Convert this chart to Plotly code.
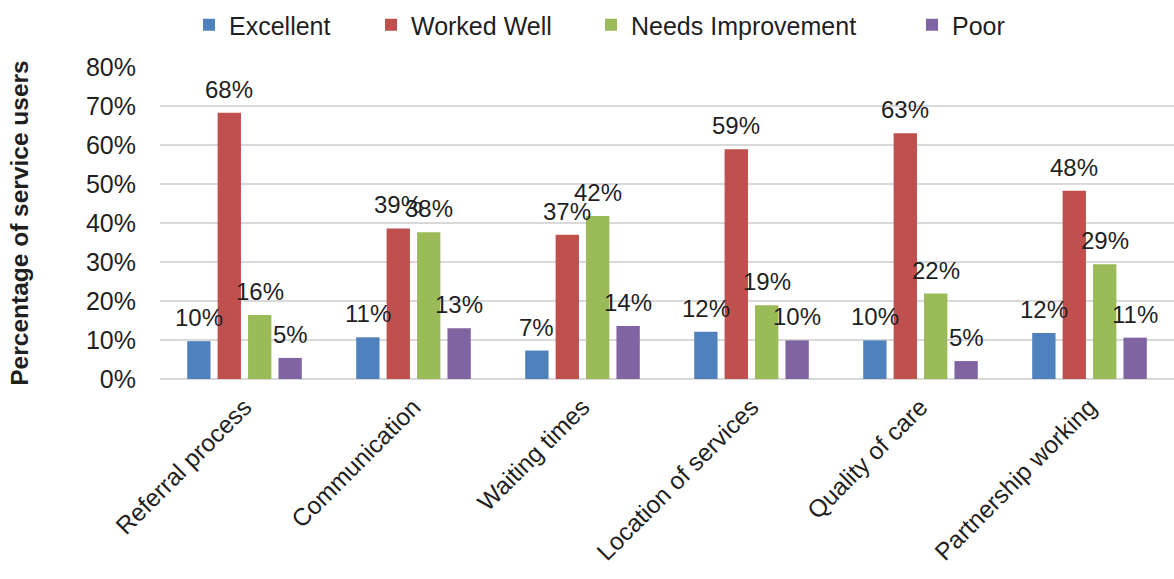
import plotly.graph_objects as go

# Survey results: share of service users rating each aspect
categories = ["Referral process", "Communication", "Waiting times",
              "Location of services", "Quality of care", "Partnership working"]
series_names = ["Excellent", "Worked Well", "Needs Improvement", "Poor"]
excellent = [9.7, 10.7, 7.3, 12.1, 9.9, 11.8]
worked_well = [68.3, 38.6, 37.0, 58.9, 63.0, 48.3]
needs_improvement = [16.4, 37.6, 41.8, 18.9, 21.9, 29.4]
poor = [5.4, 13.0, 13.6, 9.9, 4.6, 10.6]
y_ticks = [0, 10, 20, 30, 40, 50, 60, 70, 80]

colors = ["#4F81BD", "#C0504D", "#9BBB59", "#8064A2"]
values = [excellent, worked_well, needs_improvement, poor]

W, H = 1174, 579
M_L, M_R, M_T, M_B = 160, 0, 67, 200
BARGAP, BARGROUPGAP = 0.28, 0.233
FONT = "Liberation Sans, Arial, sans-serif"
TXT = "#1f1f1f"

# left edge (px from figure left) of each series' legend box
legend_px = [189, 371, 591, 912]
plot_w = W - M_L - M_R
plot_h = H - M_T - M_B

fig = go.Figure()
legend_ids = ["legend", "legend2", "legend3", "legend4"]
for name, vals, col, lid in zip(series_names, values, colors, legend_ids):
    fig.add_trace(go.Bar(
        x=categories, y=vals, name=name,
        marker=dict(color=col, line=dict(width=0)),
        legend=lid,
        hovertemplate="%{x}<br>" + name + ": %{y:.0f}%<extra></extra>",
    ))

# value labels above each bar, placed at the bar's slot within the group
cat_px = plot_w / len(categories)
slot_px = cat_px * (1 - BARGAP) / len(series_names)
annotations = []
for i, vals in enumerate(values):
    shift = (i - (len(series_names) - 1) / 2) * slot_px
    for cat, v in zip(categories, vals):
        annotations.append(dict(
            x=cat, y=v, xref="x", yref="y", text=f"{v:.0f}%",
            showarrow=False, xshift=shift, yshift=8, yanchor="bottom",
            font=dict(family=FONT, size=24, color=TXT),
        ))

layout_legends = {}
for lid, px in zip(legend_ids, legend_px):
    layout_legends[lid] = dict(
        x=(px - M_L) / plot_w, xanchor="left",
        y=(H - M_B - 25) / plot_h, yanchor="middle",
        orientation="h", bgcolor="rgba(0,0,0,0)",
        font=dict(family=FONT, size=25, color=TXT),
        itemclick=False, itemdoubleclick=False,
    )

fig.update_layout(
    width=W, height=H,
    margin=dict(l=M_L, r=M_R, t=M_T, b=M_B, autoexpand=False),
    paper_bgcolor="white", plot_bgcolor="white",
    barmode="group", bargap=BARGAP, bargroupgap=BARGROUPGAP,
    font=dict(family=FONT, size=24, color=TXT),
    annotations=annotations,
    showlegend=True,
    **layout_legends,
)

fig.update_xaxes(
    tickangle=-45, showgrid=False, showline=False, ticks="",
    ticklabelstandoff=8,
    tickfont=dict(family=FONT, size=24.5, color=TXT),
    automargin=False,
)
fig.update_yaxes(
    range=[0, 80], tickvals=y_ticks, ticktext=[f"{t}%" for t in y_ticks],
    showgrid=True, gridcolor="#D9D9D9", gridwidth=1.5,
    zeroline=True, zerolinecolor="#D9D9D9", zerolinewidth=1.5,
    showline=False, ticks="", ticklabelstandoff=23,
    tickfont=dict(family=FONT, size=25, color=TXT),
    title=dict(text="<b>Percentage of service users</b>", standoff=50,
               font=dict(family=FONT, size=24.5, color=TXT)),
    automargin=False,
)

fig.write_html("out.html")
